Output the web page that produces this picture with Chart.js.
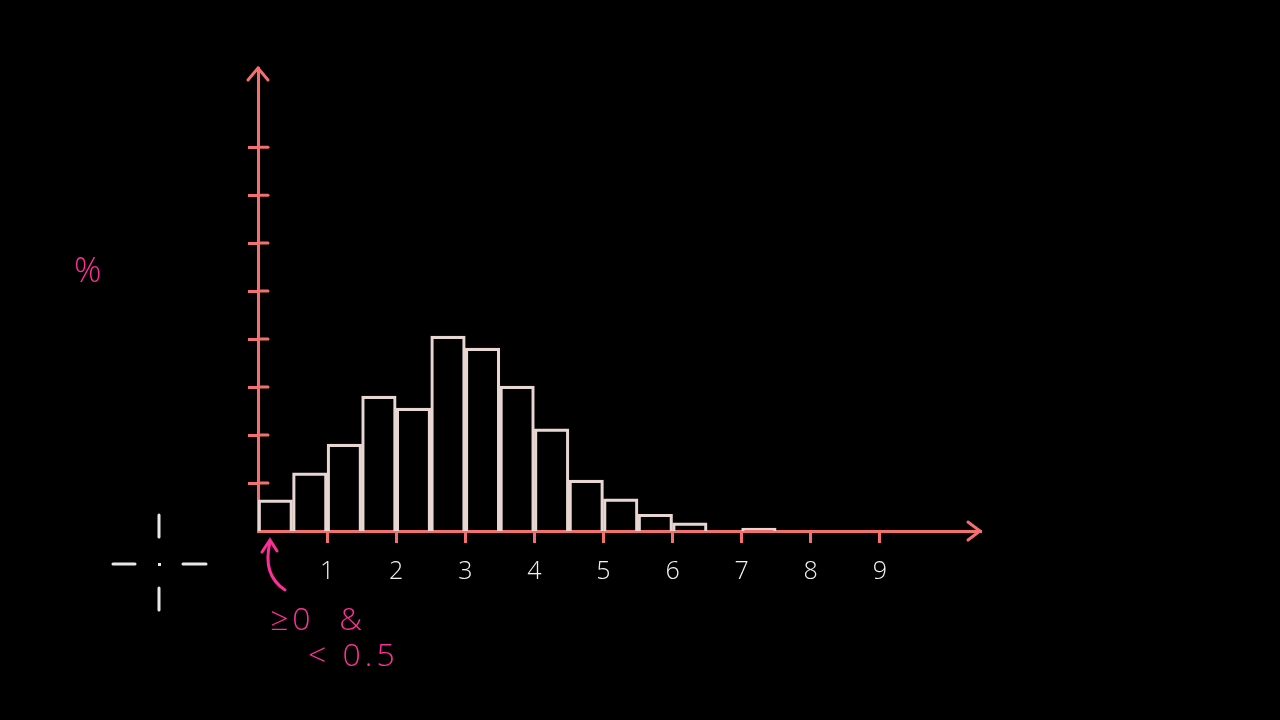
<!DOCTYPE html>
<html>
<head>
<meta charset="utf-8">
<script src="https://cdn.jsdelivr.net/npm/chart.js@4.4.1/dist/chart.umd.min.js"></script>
<style>
  html, body { margin: 0; padding: 0; background: #000; }
  #wrap { width: 1280px; height: 720px; position: relative; }
</style>
</head>
<body>
<div id="wrap"><canvas id="histChart" width="1280" height="720"></canvas></div>
<script>
// 구간 시작값 (0.5 단위 구간)
var binStarts = [0, 0.5, 1, 1.5, 2, 2.5, 3, 3.5, 4, 4.5, 5, 5.5, 6, 6.5, 7];
// 구간별 비율 (%)
var percents = [0.65, 1.21, 1.81, 2.81, 2.56, 4.06, 3.81, 3.02, 2.13, 1.06, 0.67, 0.35, 0.17, 0, 0.06];
// x축 눈금 라벨
var xTickLabels = [1, 2, 3, 4, 5, 6, 7, 8, 9];
// y축 눈금 (라벨 없음)
var yTickValues = [1, 2, 3, 4, 5, 6, 7, 8];

var binWidth = 0.5;
var axisColor = '#f4706e';
var barColor = '#e8d6d2';
var pink = '#ff2e98';

var points = binStarts.map(function(s, i) {
	return { x: s + binWidth / 2, y: percents[i] };
});

// 축 화살표, 주석, 커서 그리기
var decoPlugin = {
	id: 'deco',
	afterDraw: function(chart) {
		var ctx = chart.ctx;
		var area = chart.chartArea;
		var yScale = chart.scales.y;
		ctx.save();
		ctx.strokeStyle = axisColor;
		ctx.lineWidth = 3;
		ctx.lineCap = 'round';

		// y축 눈금 오른쪽 연장
		yScale.ticks.forEach(function(t) {
			var py = yScale.getPixelForValue(t.value);
			ctx.beginPath();
			ctx.moveTo(area.left, py);
			ctx.lineTo(area.left + 10, py);
			ctx.stroke();
		});

		// y축 화살표
		ctx.beginPath();
		ctx.moveTo(area.left - 10, area.top + 12);
		ctx.lineTo(area.left, area.top);
		ctx.lineTo(area.left + 10, area.top + 12);
		ctx.stroke();

		// x축 화살표
		ctx.beginPath();
		ctx.moveTo(area.right - 12, area.bottom - 9);
		ctx.lineTo(area.right, area.bottom);
		ctx.lineTo(area.right - 12, area.bottom + 9);
		ctx.stroke();

		// 분홍 주석
		ctx.strokeStyle = pink;
		ctx.fillStyle = pink;
		ctx.lineWidth = 3;
		ctx.beginPath();
		ctx.moveTo(285, 590);
		ctx.quadraticCurveTo(262, 575, 270, 542);
		ctx.stroke();
		ctx.beginPath();
		ctx.moveTo(262, 552);
		ctx.lineTo(270, 540);
		ctx.lineTo(277, 551);
		ctx.stroke();

		ctx.textBaseline = 'middle';
		ctx.font = '300 34px "Open Sans"';
		ctx.fillText('%', 74, 272);
		ctx.font = '300 32px "Open Sans"';
		ctx.letterSpacing = '4px';
		ctx.fillText('≥0  &', 270, 621);
		ctx.fillText('< 0.5', 308, 657);
		ctx.letterSpacing = '0px';

		// 커서 (십자)
		ctx.strokeStyle = '#e8e8e8';
		ctx.lineWidth = 3;
		ctx.beginPath();
		ctx.moveTo(113, 564); ctx.lineTo(135, 564);
		ctx.moveTo(183, 564); ctx.lineTo(206, 564);
		ctx.moveTo(159, 515); ctx.lineTo(159, 537);
		ctx.moveTo(159, 588); ctx.lineTo(159, 610);
		ctx.stroke();
		ctx.fillStyle = '#e8e8e8';
		ctx.fillRect(158, 563, 3, 3);
		ctx.restore();
	}
};

var ctx = document.getElementById('histChart').getContext('2d');
var histChart = new Chart(ctx, {
	type: 'bar',
	data: {
		datasets: [{
			label: '%',
			data: points,
			backgroundColor: 'rgba(0,0,0,0)',
			borderColor: barColor,
			borderWidth: 2.5,
			barPercentage: 1,
			categoryPercentage: 1
		}]
	},
	options: {
		responsive: false,
		animation: false,
		layout: { padding: { top: 68, right: 300, left: 0, bottom: 0 } },
		plugins: {
			legend: { display: false },
			tooltip: { enabled: false }
		},
		scales: {
			x: {
				type: 'linear',
				min: 0,
				max: 10.45,
				offset: false,
				border: { color: axisColor, width: 3 },
				grid: { offset: false, drawOnChartArea: false, color: axisColor, lineWidth: 3, tickLength: 12 },
				ticks: {
					stepSize: 1,
					color: '#f2f2f2',
					padding: 14,
					font: { family: 'Open Sans', size: 25, weight: '300' }
				},
				afterBuildTicks: function(scale) {
					scale.ticks = xTickLabels.map(function(v) { return { value: v }; });
				},
				afterFit: function(scale) { scale.height = 189; }
			},
			y: {
				min: 0,
				max: 9.65,
				border: { color: axisColor, width: 3 },
				grid: { drawOnChartArea: false, color: axisColor, lineWidth: 3, tickLength: 10 },
				ticks: { display: false },
				afterBuildTicks: function(scale) {
					scale.ticks = yTickValues.map(function(v) { return { value: v }; });
				},
				afterFit: function(scale) { scale.width = 258; }
			}
		}
	},
	plugins: [decoPlugin]
});
</script>
</body>
</html>
